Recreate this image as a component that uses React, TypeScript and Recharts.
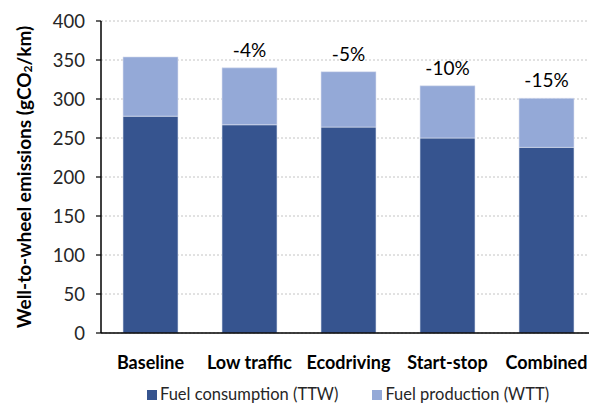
import { Bar, BarChart, CartesianGrid, LabelList, Legend, XAxis, YAxis } from "recharts";

// Well-to-wheel CO2 per scenario, split into tank-to-wheel and well-to-tank parts
const scenarios = ["Baseline", "Low traffic", "Ecodriving", "Start-stop", "Combined"];
const fuelConsumption = [278, 267, 264, 250, 238];
const fuelProduction = [76, 73, 71, 67, 63];
const changeVsBaseline = ["", "-4%", "-5%", "-10%", "-15%"];
const yTicks = [0, 50, 100, 150, 200, 250, 300, 350, 400];

const DARK = "#36548f";
const LIGHT = "#94a9d7";
const FONT = "Lato, 'Open Sans', sans-serif";

const data = scenarios.map((name, i) => ({
    name,
    ttw: fuelConsumption[i],
    wtt: fuelProduction[i],
    change: changeVsBaseline[i],
}));

const YTitle = (props: any) => {
    const vb = props.viewBox || { x: 0, y: 21, height: 312 };
    const cx = 23;
    const cy = vb.y + vb.height / 2;
    return (
        <text
            x={cx}
            y={cy}
            transform={`rotate(-90, ${cx}, ${cy})`}
            textAnchor="middle"
            dominantBaseline="central"
            fontFamily={FONT}
            fontWeight={700}
            fontSize={19}
            fill="#000"
        >
            Well-to-wheel emissions (gCO
            <tspan dy={4} fontSize={12}>2</tspan>
            <tspan dy={-4}>/km)</tspan>
        </text>
    );
};

// legend is centred under the plot area rather than the whole chart
const LegendBox = () => (
    <div
        style={{
            display: "flex",
            justifyContent: "center",
            gap: 34,
            height: 19,
            fontFamily: FONT,
            fontSize: 16.5,
            color: "#262626",
            lineHeight: "19px",
            paddingLeft: 100,
        }}
    >
        {[
            { label: "Fuel consumption (TTW)", color: DARK },
            { label: "Fuel production (WTT)", color: LIGHT },
        ].map((item) => (
            <span key={item.label} style={{ display: "flex", alignItems: "center" }}>
                <span style={{ width: 10, height: 10, background: item.color, marginRight: 3 }} />
                {item.label}
            </span>
        ))}
    </div>
);

export default function App() {
    return (
        <div
            style={{
                position: "absolute",
                left: 0,
                top: 0,
                width: 589,
                height: 404,
                overflow: "hidden",
                background: "#fff",
            }}
        >
            <BarChart
                width={596}
                height={404}
                data={data}
                margin={{ top: 21, right: 0, bottom: 0, left: 0 }}
                barSize={55}
            >
                <CartesianGrid vertical={false} stroke="#c4c4c4" strokeDasharray="2 2" />
                <XAxis
                    dataKey="name"
                    height={52}
                    axisLine={{ stroke: "#000", strokeWidth: 1.5 }}
                    tickLine={false}
                    tickMargin={17}
                    tick={{ fill: "#000", fontSize: 18, fontWeight: 700, fontFamily: FONT }}
                />
                <YAxis
                    width={101}
                    domain={[0, 400]}
                    ticks={yTicks}
                    interval={0}
                    axisLine={{ stroke: "#000", strokeWidth: 1.5 }}
                    tickLine={{ stroke: "#000", strokeWidth: 1.2 }}
                    tickSize={5}
                    tickMargin={11}
                    tick={{ fill: "#262626", fontSize: 18.5, fontFamily: FONT }}
                    label={{ content: YTitle }}
                />
                <Legend verticalAlign="bottom" content={LegendBox} />
                <Bar
                    dataKey="ttw"
                    stackId="wtw"
                    fill={DARK}
                    stroke="#dde3f0"
                    strokeWidth={0.6}
                    isAnimationActive={false}
                />
                <Bar
                    dataKey="wtt"
                    stackId="wtw"
                    fill={LIGHT}
                    stroke="#dde3f0"
                    strokeWidth={0.6}
                    isAnimationActive={false}
                >
                    <LabelList
                        dataKey="change"
                        position="top"
                        offset={11}
                        fill="#000"
                        fontSize={19}
                        fontFamily={FONT}
                    />
                </Bar>
            </BarChart>
        </div>
    );
}
